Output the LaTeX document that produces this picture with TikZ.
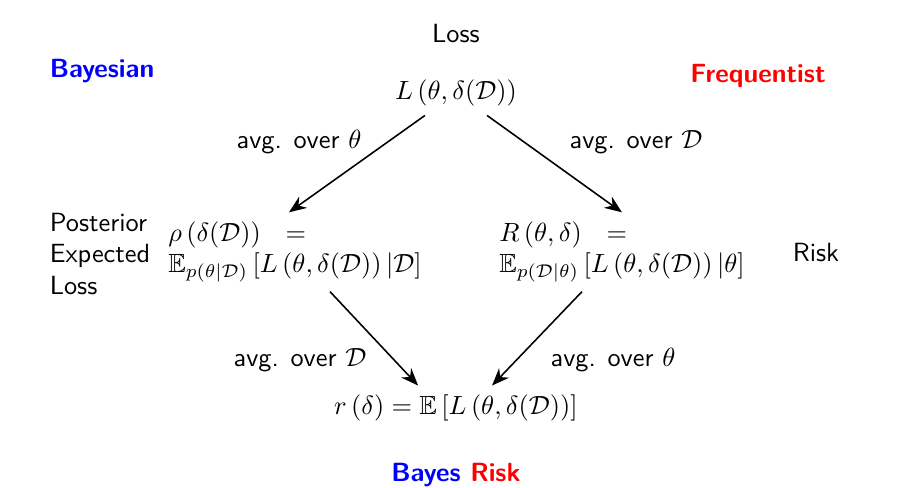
\documentclass[tikz,border=0pt]{standalone}
\usepackage{amsmath,amssymb}
\usepackage{xcolor}
\usepackage{tikz}
\usetikzlibrary{arrows.meta}
\definecolor{bayes}{HTML}{0000FF}
\definecolor{freq}{HTML}{FF0000}

\tikzset{
  lbl/.style={font=\sffamily},
  camp/.style={font=\sffamily\bfseries},
  form/.style={align=left},
  arr/.style={-{Stealth[length=6.6pt,width=5.2pt]}, line width=0.6pt},
}

\begin{document}
\begin{tikzpicture}[x=0.38pt,y=0.38pt]
  \useasboundingbox (0,0) rectangle (908,488);
  \node[lbl] (title) at (456,454) {Loss};
  \node[camp, text=bayes] (bayesian) at (102,417) {Bayesian};
  \node[camp, text=freq] (frequentist) at (758,412) {Frequentist};
  \node (lossf) at (456,395) {$L\left(\theta,\delta(\mathcal{D})\right)$};

  \node[lbl] (avgtl) at (299,346) {avg. over $\theta$};
  \node[lbl] (avgtr) at (636,346) {avg. over $\mathcal{D}$};

  \node[lbl, align=left] (postlbl) at (100,234) {Posterior\\Expected\\Loss};
  \node[form] (postf) at (295,236) {$\rho\left(\delta(\mathcal{D})\right)\ \ =$\\
    $\mathbb{E}_{p(\theta|\mathcal{D})}\left[L\left(\theta,\delta(\mathcal{D})\right)|\mathcal{D}\right]$};
  \node[form] (riskf) at (622,236) {$R\left(\theta,\delta\right)\ \ =$\\
    $\mathbb{E}_{p(\mathcal{D}|\theta)}\left[L\left(\theta,\delta(\mathcal{D})\right)|\theta\right]$};
  \node[lbl] (risklbl) at (816,235) {Risk};

  \node[lbl] (avgbl) at (300,128) {avg. over $\mathcal{D}$};
  \node[lbl] (avgbr) at (613,128) {avg. over $\theta$};
  \node (bayesf) at (456,80) {$r\left(\delta\right) = \mathbb{E}\left[L\left(\theta,\delta(\mathcal{D})\right)\right]$};
  \node[camp, anchor=base] (bayesrisk) at (456,6) {\textcolor{bayes}{Bayes} \textcolor{freq}{Risk}};

  \draw[arr] ([xshift=-11.8pt]lossf.south) -- ([xshift=-2.3pt]postf.north);
  \draw[arr] ([xshift=11.8pt]lossf.south) -- (riskf.north);
  \draw[arr] ([xshift=13.3pt]postf.south) -- ([xshift=-14.4pt]bayesf.north);
  \draw[arr] ([xshift=-15.2pt]riskf.south) -- ([xshift=13.7pt]bayesf.north);
\end{tikzpicture}
\end{document}
